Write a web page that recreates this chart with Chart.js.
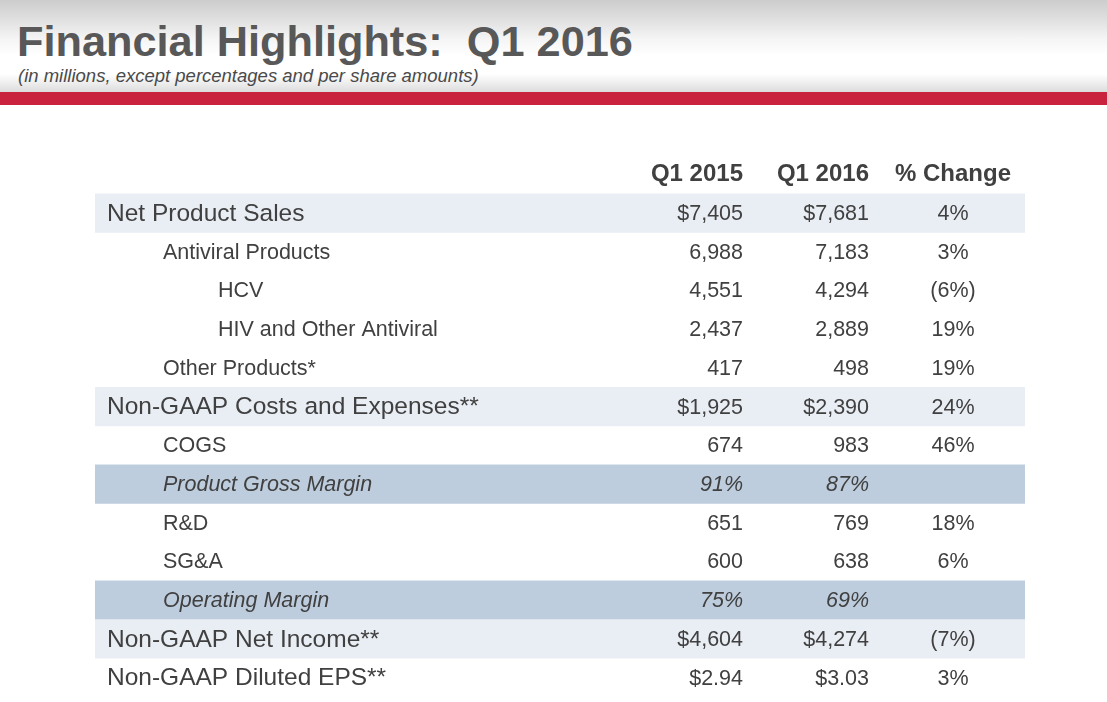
<!DOCTYPE html>
<html>
<head>
<meta charset="utf-8">
<script src="https://cdn.jsdelivr.net/npm/chart.js@4/dist/chart.umd.min.js"></script>
<style>
  html, body { margin: 0; padding: 0; width: 1107px; height: 702px; overflow: hidden; background: #fff; }
  #banner {
    position: absolute; left: 0; top: 0; width: 1107px; height: 92px;
    background: linear-gradient(to bottom, #cdcdcd 0px, #dedede 18px, #f4f4f4 38px, #ffffff 55px, #ffffff 74px, #ececec 84px, #dcdcdc 92px);
  }
  #title {
    position: absolute; left: 17px; top: 17px; margin: 0;
    font: bold 43.3px "Liberation Sans", Arial, sans-serif; color: #585858; white-space: pre;
  }
  #subtitle {
    position: absolute; left: 18px; top: 65px; margin: 0;
    font: italic 18.5px "Liberation Sans", Arial, sans-serif; color: #4a4a4a;
  }
  #redbar { position: absolute; left: 0; top: 92px; width: 1107px; height: 13px; background: #c8223f; }
  #wrap { position: absolute; left: 0; top: 105px; width: 1107px; height: 597px; }
</style>
</head>
<body>
<div id="banner">
  <div id="title">Financial Highlights:  Q1 2016</div>
  <div id="subtitle">(in millions, except percentages and per share amounts)</div>
</div>
<div id="redbar"></div>
<div id="wrap"><canvas id="myChart"></canvas></div>
<script>
const columns = ["Q1 2015", "Q1 2016", "% Change"];
const rowLabels = [
  "Net Product Sales",
  "Antiviral Products",
  "HCV",
  "HIV and Other Antiviral",
  "Other Products*",
  "Non-GAAP Costs and Expenses**",
  "COGS",
  "Product Gross Margin",
  "R&D",
  "SG&A",
  "Operating Margin",
  "Non-GAAP Net Income**",
  "Non-GAAP Diluted EPS**",
];
// total = dollar headline row, sub / subsub = indented detail, margin = percent row
const rowKind = ["total", "sub", "subsub", "subsub", "sub", "total", "sub", "margin", "sub", "sub", "margin", "total", "eps"];
const rowBand = ["light", "", "", "", "", "light", "", "dark", "", "", "dark", "light", ""];
const q1_2015 = [7405, 6988, 4551, 2437, 417, 1925, 674, 91, 651, 600, 75, 4604, 2.94];
const q1_2016 = [7681, 7183, 4294, 2889, 498, 2390, 983, 87, 769, 638, 69, 4274, 3.03];
const pctChange = [4, 3, -6, 19, 19, 24, 46, null, 18, 6, null, -7, 3];

const tableWidth = 930;
const labels = [""].concat(rowLabels);
const bandColor = { light: "rgb(233, 237, 244)", dark: "rgb(190, 205, 221)" };

function fmtValue(v, kind) {
  if (kind == "margin") return v + "%";
  if (kind == "eps") return "$" + v.toFixed(2);
  const s = v.toLocaleString("en-US");
  return kind == "total" ? "$" + s : s;
}
function fmtPct(v) {
  if (v === null) return "";
  return v < 0 ? "(" + -v + "%)" : v + "%";
}

const tableText = {
  id: "tableText",
  afterDatasetsDraw(chart) {
    const ctx = chart.ctx;
    const x = chart.scales.x;
    const y = chart.scales.y;
    const FONT = '"Liberation Sans", Arial, sans-serif';
    ctx.save();
    ctx.fillStyle = "#404040";
    ctx.textBaseline = "middle";
    // header row
    ctx.font = "bold 24px " + FONT;
    const hy = y.getPixelForValue(0);
    ctx.textAlign = "right";
    ctx.fillText(columns[0], x.getPixelForValue(648), hy);
    ctx.fillText(columns[1], x.getPixelForValue(774), hy);
    ctx.textAlign = "center";
    ctx.fillText(columns[2], x.getPixelForValue(858), hy);

    rowLabels.forEach((lab, i) => {
      const kind = rowKind[i];
      const py = y.getPixelForValue(i + 1);
      const italic = kind == "margin" ? "italic " : "";
      let indent = 12;
      if (kind == "sub" || kind == "margin") indent = 68;
      if (kind == "subsub") indent = 123;
      const big = kind == "total" || kind == "eps";
      ctx.font = italic + (big ? "24.5px " : "21.5px ") + FONT;
      ctx.textAlign = "left";
      ctx.fillText(lab, x.getPixelForValue(indent), py + 1);
      ctx.font = italic + "21.5px " + FONT;
      ctx.textAlign = "right";
      ctx.fillText(fmtValue(q1_2015[i], kind), x.getPixelForValue(648), py + 1);
      ctx.fillText(fmtValue(q1_2016[i], kind), x.getPixelForValue(774), py + 1);
      ctx.textAlign = "center";
      ctx.fillText(fmtPct(pctChange[i]), x.getPixelForValue(858), py + 1);
    });
    ctx.restore();
  },
};

const bands = labels.map((l, i) => (i > 0 && rowBand[i - 1] ? [0, tableWidth] : null));
const bandColors = labels.map((l, i) => (i > 0 && rowBand[i - 1] ? bandColor[rowBand[i - 1]] : "rgba(0,0,0,0)"));

const data = {
  labels: labels,
  datasets: [
    {
      label: "rows",
      data: bands,
      backgroundColor: bandColors,
      borderWidth: 0,
      barPercentage: 1,
      categoryPercentage: 1,
    },
  ],
};
const config = {
  type: "bar",
  data: data,
  options: {
    indexAxis: "y",
    responsive: true,
    maintainAspectRatio: false,
    animation: false,
    layout: { padding: { left: 95, right: 82, top: 50, bottom: 5 } },
    plugins: { legend: { display: false }, tooltip: { enabled: false } },
    scales: {
      x: { type: "linear", min: 0, max: tableWidth, display: false },
      y: { type: "category", display: false, offset: true },
    },
  },
  plugins: [tableText],
};

const myChart = new Chart(document.getElementById("myChart"), config);
</script>
</body>
</html>
